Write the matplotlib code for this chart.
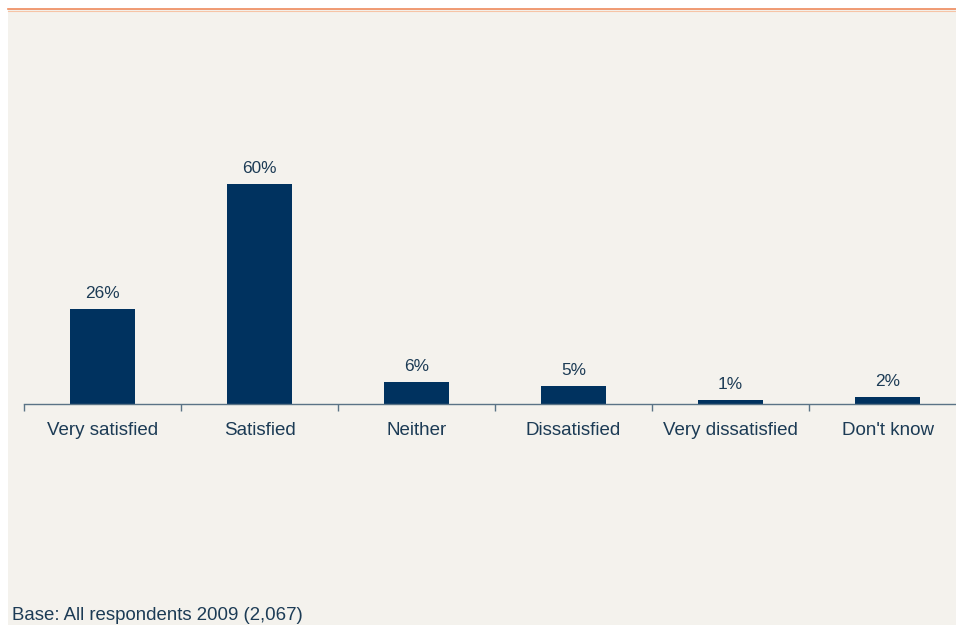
import matplotlib
matplotlib.use("Agg")
import matplotlib.pyplot as plt
from matplotlib.patches import Rectangle
from matplotlib.lines import Line2D
import numpy as np

plt.rcParams["font.family"] = ["Liberation Sans", "DejaVu Sans"]

categories = ["Very satisfied", "Satisfied", "Neither", "Dissatisfied",
              "Very dissatisfied", "Don't know"]
shares = [26, 60, 6, 5, 1, 2]
base_note = "Base: All respondents 2009 (2,067)"

BAR = "#00325f"
AXIS = "#5a7386"
TEXT = "#1c3b55"
PANEL = "#f4f2ed"

W, H = 956, 625
fig = plt.figure(figsize=(W / 100, H / 100), dpi=100, facecolor="white")

# beige panel with an orange rule along its top edge
fig.patches.append(Rectangle((8 / W, 0), 1 - 8 / W, 1 - 9 / H,
                             transform=fig.transFigure, facecolor=PANEL,
                             edgecolor="none", zorder=-5))
fig.lines.append(Line2D([8 / W, 1], [1 - 9 / H, 1 - 9 / H], transform=fig.transFigure,
                        color="#ee8a5c", lw=1.2, zorder=-4))
fig.lines.append(Line2D([8 / W, 1], [1 - 10.5 / H, 1 - 10.5 / H], transform=fig.transFigure,
                        color="#f6c4a6", lw=0.8, zorder=-4))

# axes: baseline at y=404px, one category every ~157px
left, right = 24 / W, 966 / W
bottom, top = (H - 404) / H, (H - 9) / H
ax = fig.add_axes([left, bottom, right - left, top - bottom])
ax.set_zorder(2)
ax.set_facecolor("none")

x = np.arange(len(categories))
ax.bar(x, shares, width=0.41, color=BAR, zorder=2)
for xi, v in zip(x, shares):
    ax.text(xi, v + 2.2, f"{v}%", ha="center", va="bottom", fontsize=12.4, color=TEXT)

ax.set_xlim(-0.5, len(categories) - 0.5)
ax.set_ylim(0, 395 / 3.667)

ax.set_xticks(x)
ax.set_xticklabels(categories, fontsize=13.5, color=TEXT)
ax.tick_params(axis="x", which="major", length=0, pad=13)
ax.set_xticks(np.arange(-0.5, len(categories)), minor=True)
ax.tick_params(axis="x", which="minor", length=5, width=1, color=AXIS, direction="out")
ax.set_yticks([])

for side in ("top", "right", "left"):
    ax.spines[side].set_visible(False)
ax.spines["bottom"].set_color(AXIS)
ax.spines["bottom"].set_linewidth(1)

fig.text(12 / W, 1 / H, base_note, ha="left", va="bottom",
         fontsize=13.4, color=TEXT)

fig.savefig("out.png", dpi=100, facecolor="white")
